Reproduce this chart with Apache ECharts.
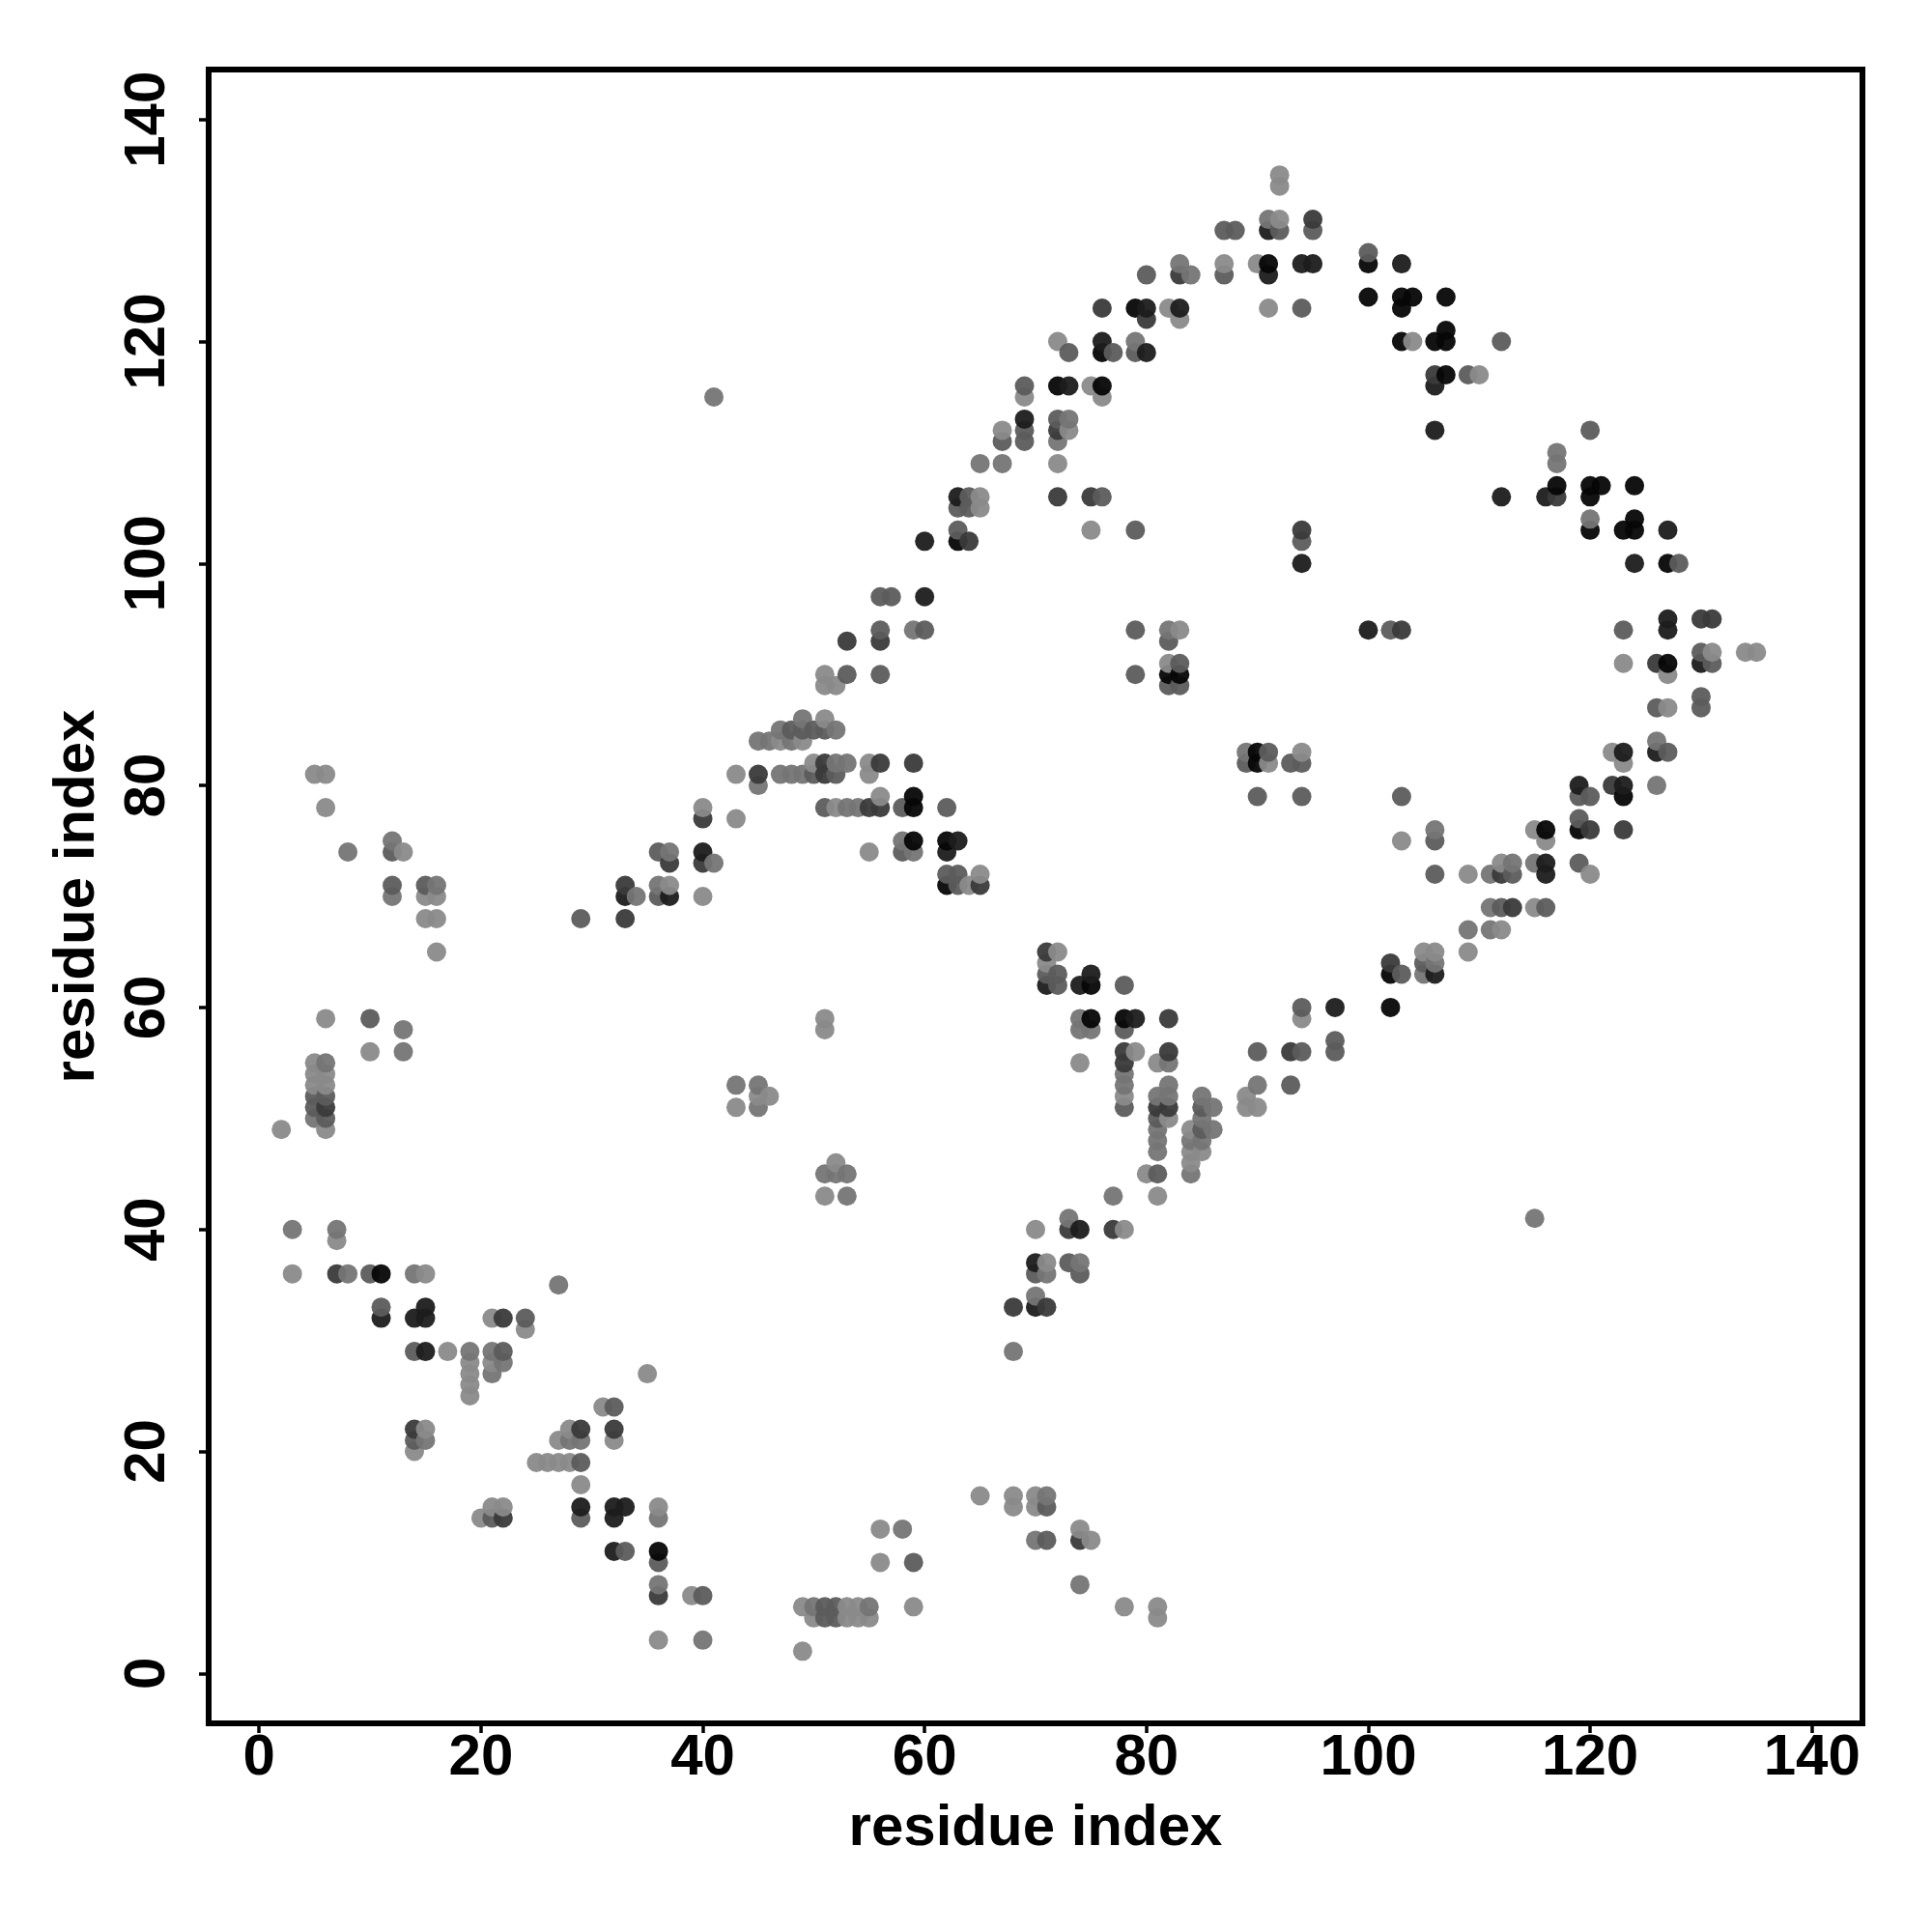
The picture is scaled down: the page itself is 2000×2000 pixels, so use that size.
<!DOCTYPE html>
<html><head><meta charset="utf-8">
<style>html,body{margin:0;padding:0;background:#fff}#c{width:2000px;height:2000px}</style>
<script src="https://cdn.jsdelivr.net/npm/echarts@6/dist/echarts.min.js"></script>
</head><body><div id="c"></div>
<script>
const tickValues=[0,20,40,60,80,100,120,140];
const shades=['#8a8a8a','#757575','#5c5c5c','#3a3a3a','#1c1c1c','#060606'];
const lightest=[[3,36],[7,39],[15,36],[21,32],[24,31],[17,29],[19,28],[19,27],[19,26],[19,25],[21,28],[35,27],[31,24],[14,20],[15,22],[15,21],[27,21],[28,22],[28,21],[32,21],[25,19],[26,19],[27,19],[28,19],[29,17],[21,15],[22,15],[36,15],[20,14],[36,3],[39,7],
[51,43],[52,46],[80,45],[84,45],[81,43],[77,43],[70,40],[78,40],[71,37],[65,16],[68,16],[70,16],[68,15],[70,15],[56,13],[74,13],[75,12],[56,10],[49,6],[53,6],[54,6],[59,6],[78,6],[81,6],[50,5],[53,5],[54,5],[55,5],[81,5],[49,2],
[5,81],[6,81],[6,78],[13,74],[15,70],[16,70],[15,68],[16,68],[16,65],[6,59],[10,56],[5,55],[5,54],[6,54],[5,53],[6,53],[6,49],[2,49],[37,71],[40,78],[43,77],[40,70],[43,81],[47,81],[45,52],[46,52],[43,51],
[51,89],[52,89],[47,84],[49,84],[51,86],[50,82],[55,82],[55,81],[45,80],[56,79],[52,78],[55,74],[65,72],[64,71],[72,65],[71,64],[51,59],[51,58],[79,56],[74,55],[81,55],[78,52],[89,52],[89,51],[90,51],[82,50],[84,47],[85,47],[84,49],[84,46],
[72,120],[75,116],[76,115],[69,115],[67,112],[73,112],[72,109],[65,106],[65,105],[75,103],[92,135],[92,134],[92,131],[87,127],[90,127],[84,126],[82,123],[91,123],[83,122],[104,120],[110,117],[59,94],[83,94],[82,91],[51,90],
[94,83],[91,82],[134,92],[135,92],[131,92],[123,91],[127,90],[127,87],[122,83],[123,82],[115,76],[116,75],[103,75],[112,73],[120,72],[115,73],[109,72],[115,69],[112,67],[109,65],[105,65],[106,65],[94,59]];
const light=[[3,40],[8,36],[14,36],[27,35],[19,29],[21,29],[22,28],[21,27],[28,21],[29,21],[36,14],[40,3],[36,8],[15,21],[45,81],
[53,43],[51,45],[52,45],[53,45],[73,41],[74,37],[71,36],[70,34],[68,29],[71,16],[70,12],[58,13],[74,8],[50,6],[55,6],[7,40],
[8,74],[12,75],[16,71],[12,70],[13,58],[13,56],[6,55],[5,50],[37,74],[36,71],[41,73],[45,80],[43,53],[45,53],[45,51],[34,70],
[45,84],[46,84],[48,84],[47,85],[49,86],[52,85],[52,82],[53,82],[47,81],[48,81],[49,81],[53,78],[54,78],[58,75],[59,74],[74,59],[74,58],[75,58],[82,55],[78,54],[78,53],[82,53],[90,53],[81,52],[82,52],[85,52],[85,50],[86,51],[81,49],[86,49],[84,48],[85,48],[81,48],[81,47],[84,45],[77,43],
[65,109],[67,109],[72,111],[73,113],[79,120],[83,127],[84,126],[91,131],[117,110],[117,109],[120,104],[100,128],[109,117],[82,94],[53,90],[56,90],[59,94],[94,79],[90,79],[94,82],[93,82],[89,83],
[126,84],[123,83],[126,80],[119,73],[113,73],[115,73],[106,76],[111,72],[111,69],[106,64],[105,63],[109,67],[111,67],[41,115],[115,41],[83,89]];
const mid=[[10,36],[11,33],[24,32],[14,29],[22,29],[32,24],[14,21],[29,19],[29,14],[21,14],[33,11],[36,10],[40,7],
[81,45],[73,37],[70,36],[74,36],[71,33],[71,15],[59,10],[71,12],[51,6],[52,6],[51,5],[52,5],
[12,74],[12,71],[15,71],[10,59],[5,52],[6,52],[5,51],[6,50],[36,74],[37,73],[36,70],[40,73],[29,68],
[45,81],[48,85],[49,85],[50,85],[51,85],[53,90],[50,81],[52,81],[51,78],[58,78],[62,78],[58,74],[62,72],[63,72],[63,71],[78,58],[74,62],[72,63],[71,63],[72,62],[78,62],[62,78],
[90,56],[94,56],[97,56],[97,57],[93,53],[78,51],[81,50],[85,51],[85,49],[81,45],[94,60],
[78,56],[103,79],[90,79],[94,79],[89,82],[91,83],[93,82],[94,82],
[80,126],[87,126],[73,119],[77,119],[79,119],[72,113],[69,116],[69,112],[67,111],[69,111],[72,106],[75,106],[76,106],[64,106],[64,105],[63,105],[63,103],[79,103],[94,102],[75,106],
[87,130],[92,130],[88,130],[95,130],[100,128],[94,123],[112,120],[109,117],[106,117],[128,100],[120,112],
[56,97],[57,97],[60,94],[56,94],[79,94],[82,93],[83,91],[79,90],[82,89],[83,89],[53,93],[56,90],
[102,94],[123,94],[130,92],[131,91],[126,87],[130,88],[130,87],[127,83],[119,79],[120,79],[119,77],[119,73],[106,75],[105,64],[106,72],[112,72],[113,72],[116,69],[112,69],[103,63],[116,76],[94,56],[90,56],[64,102]];
const dark=[[22,14],[14,22],[22,32],[32,22],[7,36],[36,7],[29,22],[45,81],[33,71],[33,68],[40,77],[40,73],[37,73],[51,82],[51,81],[56,82],[59,82],[55,78],[56,78],[65,71],[71,65],[6,51],
[73,40],[77,40],[68,33],[71,33],[74,12],[78,55],[78,56],[82,56],[82,59],[81,51],[82,51],[93,56],[119,80],
[69,113],[72,112],[76,123],[80,122],[83,126],[91,126],[95,131],[75,106],[63,106],[64,102],[56,93],[53,93],[72,106],[106,117],[106,112],[117,106],[94,103],[103,94],
[130,95],[131,95],[126,91],[122,80],[120,76],[123,76],[112,72],[113,69],[102,64],[32,15]];
const darker=[[32,11],[14,32],[15,32],[15,33],[11,32],[15,29],[29,15],[32,15],[33,15],[32,14],[74,40],[70,33],
[40,74],[33,70],[37,70],[63,75],[62,74],[74,62],[75,63],[79,59],[60,97],[60,102],[63,106],
[69,113],[72,116],[73,116],[76,120],[76,119],[80,123],[83,123],[80,119],[103,127],[91,130],[94,127],[95,127],[91,126],[112,106],[116,106],[106,116],[106,112],[127,103],[124,100],[100,124],[97,60],[100,94],[127,94],[127,95],[130,91],[123,83],[126,83],[119,80],[123,80],[116,73],[116,72],[106,63],[62,71],[71,62],[70,37],[70,33],[94,100]];
const blackest=[[11,36],[36,11],[59,79],[59,78],[59,75],[62,75],[62,71],[75,62],[75,59],[78,59],[76,119],[72,116],[76,116],[79,123],[91,127],[100,127],[100,124],[103,124],[104,124],[107,124],[103,123],[103,120],[106,120],[107,120],[107,121],[107,117],[63,102],[116,76],[119,76],[117,107],[120,107],[121,107],[124,107],[120,106],[120,103],[123,103],[124,103],[124,104],[127,100],[127,91],[123,79],[102,63],[102,60],[90,83],[90,82],[82,90],[83,90]];

// later, darker entries replace earlier ones at the same cell
const cells=new Map();
[lightest,light,mid,dark,darker,blackest].forEach((list,i)=>{
  list.forEach(p=>cells.set(p[0]+','+p[1],{x:p[0],y:p[1],s:i}));
});
const points=[...cells.values()].sort((a,b)=>a.x-b.x||a.y-b.y);
const seriesData=points.map(p=>({value:[p.x,p.y],itemStyle:{color:shades[p.s]}}));

const axisCommon={
  type:'value',nameLocation:'middle',
  nameTextStyle:{fontFamily:'Liberation Sans',fontWeight:'bold',fontSize:60,color:'#000'},
  axisLine:{show:true,onZero:false,lineStyle:{color:'#000',width:6}},
  axisTick:{show:true,length:10,inside:false,lineStyle:{color:'#000',width:3.5},customValues:tickValues},
  axisLabel:{show:true,fontFamily:'Liberation Sans',fontWeight:'bold',fontSize:60,color:'#000',customValues:tickValues,showMinLabel:true,showMaxLabel:true},
  splitLine:{show:false}
};
const chart=echarts.init(document.getElementById('c'),null,{renderer:'canvas'});
chart.setOption({
  animation:false,backgroundColor:'#fff',
  grid:{left:216,right:72,top:72,bottom:216,show:true,borderColor:'#000',borderWidth:6,backgroundColor:'transparent'},
  xAxis:Object.assign({},axisCommon,{name:'residue index',min:-4.55,max:144.55,nameGap:79,
    axisLabel:Object.assign({},axisCommon.axisLabel,{margin:6})}),
  yAxis:Object.assign({},axisCommon,{name:'residue index',min:-4.5,max:144.5,nameGap:106,
    axisLabel:Object.assign({},axisCommon.axisLabel,{rotate:90,margin:63,verticalAlign:'middle',align:'center'})}),
  series:[{type:'scatter',symbol:'circle',symbolSize:20,data:seriesData,clip:false,itemStyle:{opacity:0.95}}]
});
</script></body></html>
